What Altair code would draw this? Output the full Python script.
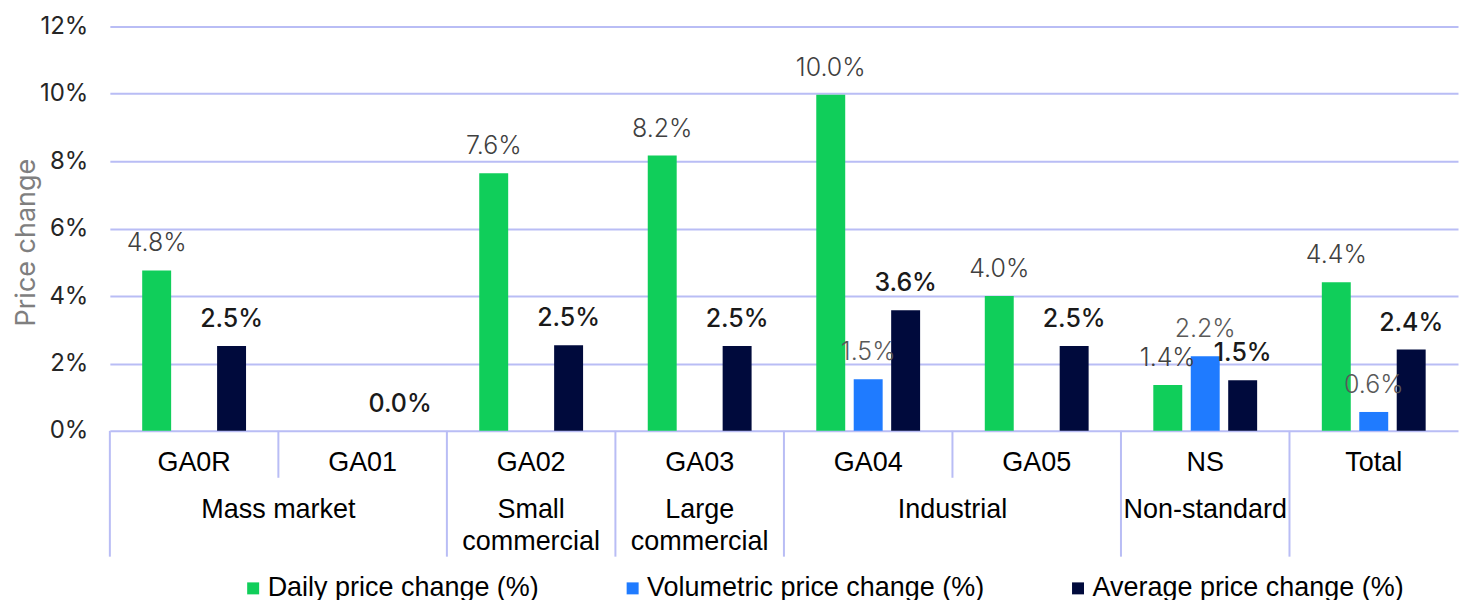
import altair as alt
import pandas as pd

categories = ["GA0R", "GA01", "GA02", "GA03", "GA04", "GA05", "NS", "Total"]
daily = [4.76, None, 7.64, 8.17, 9.97, 4.0, 1.36, 4.41]
volumetric = [None, None, None, None, 1.53, None, 2.21, 0.56]
average = [2.52, 0.0, 2.54, 2.52, 3.58, 2.52, 1.50, 2.41]
series = ["Daily price change (%)", "Volumetric price change (%)", "Average price change (%)"]
colors = ["#10ce5a", "#1f7bff", "#000a3c"]

group_names = ["Mass market", "Small\ncommercial", "Large\ncommercial", "Industrial", "Non-standard", ""]
group_start = [0, 2, 3, 4, 6, 7]
group_end = [2, 3, 4, 6, 7, 8]
short_dividers = [1, 5]
y_ticks = [0, 2, 4, 6, 8, 10, 12]

rows = []
for s, vals in zip(series, [daily, volumetric, average]):
    for c, v in zip(categories, vals):
        if v is not None:
            rows.append({"cat": c, "series": s, "value": v})
df = pd.DataFrame(rows)
groups_df = pd.DataFrame({"name": group_names, "start": group_start, "end": group_end})
long_df = pd.DataFrame({"idx": group_start})
short_df = pd.DataFrame({"idx": short_dividers})

W, H = 1350, 405
GRID = "#b9bdf5"
VAL_FONT = "Inter"
CAT_FONT = "Liberation Sans"
CAT_SIZE = 27

x_enc = alt.X(
    "cat:N", sort=categories,
    scale=alt.Scale(domain=categories, paddingInner=0, paddingOuter=0),
    axis=alt.Axis(title=None, domain=False, ticks=False, grid=False, labelAngle=0,
                  labelFont=CAT_FONT, labelFontSize=CAT_SIZE, labelColor="#000000",
                  labelPadding=19),
)
y_enc = alt.Y(
    "value:Q", scale=alt.Scale(domain=[0, 12], nice=False),
    axis=alt.Axis(values=y_ticks, labelExpr="datum.value + '%'", title="Price change",
                  domain=False, ticks=False, grid=True, gridColor=GRID, gridWidth=2,
                  labelFont=VAL_FONT, labelFontSize=24, labelColor="#262626", labelPadding=22,
                  titleFont=VAL_FONT, titleFontSize=27, titleFontWeight="normal",
                  titleColor="#7f7f7f", titleX=-83, titleY=216, titleAngle=270,
                  titleBaseline="middle", titleAlign="center"),
)
xoff = alt.XOffset("series:N", sort=series,
                   scale=alt.Scale(domain=series, paddingInner=0.227, paddingOuter=0.8635))

base = alt.Chart(df)

bars = base.mark_bar().encode(
    x=x_enc, y=y_enc, xOffset=xoff,
    color=alt.Color("series:N", sort=series,
                    scale=alt.Scale(domain=series, range=colors),
                    legend=alt.Legend(orient="none", legendX=130, legendY=549,
                                      direction="horizontal", columns=3, title=None,
                                      symbolType="square", symbolSize=144,
                                      symbolStrokeWidth=0, labelFont=CAT_FONT,
                                      labelFontSize=CAT_SIZE, labelColor="#000000",
                                      labelLimit=500, columnPadding=80, labelOffset=1,
                                      padding=0)),
)

label_styles = [
    (series[0], "#404040", 300),
    (series[1], "#595959", 300),
    (series[2], "#1a1a1a", 500),
]
label_layers = []
for s, col, wt in label_styles:
    label_layers.append(
        base.transform_filter(alt.datum.series == s)
        .transform_calculate(lbl="format(datum.value, '.1f') + '%'")
        .mark_text(font=VAL_FONT, fontSize=25, color=col, fontWeight=wt,
                   baseline="alphabetic", align="center", dy=-19)
        .encode(x=alt.X("cat:N", sort=categories), y=alt.Y("value:Q"),
                xOffset=alt.XOffset("series:N", sort=series), text="lbl:N")
    )

idx_scale = alt.Scale(domain=[0, 8], nice=False, zero=True)
long_rules = alt.Chart(long_df).mark_rule(color=GRID, strokeWidth=2).encode(
    x=alt.X("idx:Q", scale=idx_scale, axis=None),
    y=alt.value(H), y2=alt.value(H + 126),
)
short_rules = alt.Chart(short_df).mark_rule(color=GRID, strokeWidth=2).encode(
    x=alt.X("idx:Q", scale=idx_scale, axis=None),
    y=alt.value(H), y2=alt.value(H + 47),
)
group_text = alt.Chart(groups_df).transform_calculate(
    mid="(datum.start + datum.end) / 2"
).mark_text(font=CAT_FONT, fontSize=CAT_SIZE, color="#000000", lineBreak="\n",
            lineHeight=32, baseline="alphabetic", align="center").encode(
    x=alt.X("mid:Q", scale=idx_scale, axis=None),
    y=alt.value(H + 87),
    text="name:N",
)

main = alt.layer(bars, *label_layers)
annot = alt.layer(long_rules, short_rules, group_text)

chart = alt.layer(main, annot).resolve_scale(x="independent").properties(
    width=W, height=H,
    autosize=alt.AutoSizeParams(type="none"),
    padding={"left": 102, "top": 18, "right": 2, "bottom": 190},
).configure_view(stroke=None)

chart.save("out.html", embed_options={"renderer": "svg", "actions": False})
